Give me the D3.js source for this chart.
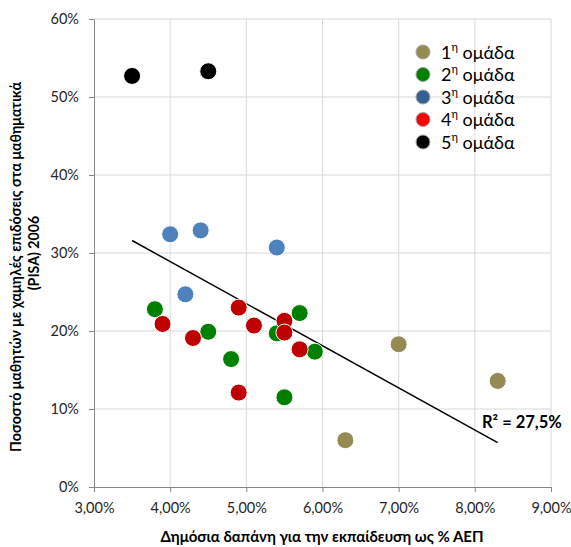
<!DOCTYPE html>
<html><head><meta charset="utf-8">
<script src="https://cdn.jsdelivr.net/npm/d3@7"></script>
<style>body{margin:0;background:#fff;} text{font-family:Lato,"Open Sans",sans-serif;}</style>
</head><body><svg id="c" width="571" height="547"></svg>
<script>
const groups = ["1","2","3","4","5"];
const groupColors = ["#948A54","#008000","#4F81BD","#C00000","#000000"];
const legendColors = ["#948A54","#008000","#376092","#FF0000","#000000"];
const g1x = [7.0, 8.3, 6.3];
const g1y = [18.3, 13.6, 6.0];
const g2x = [3.8, 4.5, 4.8, 5.5, 5.4, 5.7, 5.9];
const g2y = [22.8, 19.9, 16.4, 11.5, 19.7, 22.3, 17.35];
const g3x = [4.0, 4.4, 5.4, 4.2];
const g3y = [32.4, 32.9, 30.7, 24.7];
const g4x = [3.9, 4.3, 4.9, 5.1, 4.9, 5.5, 5.5, 5.7];
const g4y = [20.9, 19.1, 23.0, 20.7, 12.1, 21.3, 19.8, 17.65];
const g5x = [3.5, 4.5];
const g5y = [52.7, 53.3];
const xTicks = [3,4,5,6,7,8,9];
const yTicks = [0,10,20,30,40,50,60];
const trendX = [3.5, 8.3];
const trendY = [31.6, 5.7];
const r2Label = "R² = 27,5%";

const svg = d3.select("#c");
const x = d3.scaleLinear().domain([3,9]).range([94,551]);
const y = d3.scaleLinear().domain([0,60]).range([487,19]);
const fmtX = d => d.toFixed(2).replace(".", ",") + "%";

// gridlines
svg.append("g").selectAll("line").data(xTicks.slice(1)).join("line")
  .attr("x1",d=>x(d)).attr("x2",d=>x(d)).attr("y1",y(0)).attr("y2",y(60))
  .attr("stroke","#d9d9d9").attr("stroke-width",1);
svg.append("g").selectAll("line").data(yTicks.slice(1)).join("line")
  .attr("x1",x(3)).attr("x2",x(9)).attr("y1",d=>y(d)).attr("y2",d=>y(d))
  .attr("stroke","#d9d9d9").attr("stroke-width",1);

// axes
const xa = svg.append("g").attr("transform",`translate(0,${y(0)})`)
  .call(d3.axisBottom(x).tickValues(xTicks).tickFormat(fmtX).tickSize(5).tickSizeOuter(0));
const ya = svg.append("g").attr("transform",`translate(${x(3)},0)`)
  .call(d3.axisLeft(y).tickValues(yTicks).tickFormat(d=>d+"%").tickSize(5).tickSizeOuter(0));
[xa,ya].forEach(a=>{
  a.select(".domain").attr("stroke","#868686");
  a.selectAll(".tick line").attr("stroke","#868686");
  a.selectAll(".tick text").attr("fill","#262626").style("font-size","14.5px").style("font-family","Lato,sans-serif");
});
xa.selectAll(".tick text").attr("dy",null).attr("y",26);
ya.selectAll(".tick text").attr("x",-15);

// trend line
svg.append("line").attr("x1",x(trendX[0])).attr("y1",y(trendY[0]))
  .attr("x2",x(trendX[1])).attr("y2",y(trendY[1])).attr("stroke","#000").attr("stroke-width",1.5);

// points
const all = [[g1x,g1y],[g2x,g2y],[g3x,g3y],[g4x,g4y],[g5x,g5y]];
all.forEach(([xs,ys],i)=>{
  svg.append("g").selectAll("circle").data(xs.map((v,j)=>[v,ys[j]])).join("circle")
    .attr("cx",d=>x(d[0])).attr("cy",d=>y(d[1])).attr("r",8.5)
    .attr("fill",groupColors[i]).attr("stroke","#fff").attr("stroke-width",1);
});

// R2 label
svg.append("text").attr("x",482).attr("y",428).text(r2Label)
  .style("font-size","16.5px").style("font-weight","bold").attr("fill","#000");

// legend
const lg = svg.append("g");
groups.forEach((gname,i)=>{
  const yy = 52 + i*22.5;
  lg.append("circle").attr("cx",423).attr("cy",yy).attr("r",7)
    .attr("fill",legendColors[i]).attr("stroke","#a6a6a6").attr("stroke-width",1);
  const t = lg.append("text").attr("x",441).attr("y",yy+6.5).style("font-size","18px").attr("fill","#000");
  t.append("tspan").text(gname);
  t.append("tspan").text("η").attr("dy",-8).style("font-size","11px");
  t.append("tspan").text(" ομάδα").attr("dy",8);
});

// axis titles
svg.append("text").attr("x",322).attr("y",542).attr("text-anchor","middle")
  .style("font-size","15px").style("font-weight","bold").attr("fill","#000")
  .text("Δημόσια δαπάνη για την εκπαίδευση ως % ΑΕΠ");
svg.append("text").attr("transform","translate(21,267) rotate(-90)").attr("text-anchor","middle")
  .style("font-size","14.2px").style("font-weight","bold").attr("fill","#000")
  .text("Ποσοστό μαθητών με χαμηλές επιδόσεις στα μαθηματικά");
svg.append("text").attr("transform","translate(39,253) rotate(-90)").attr("text-anchor","middle")
  .style("font-size","14.2px").style("font-weight","bold").attr("fill","#000")
  .text("(PISA) 2006");
</script></body></html>
